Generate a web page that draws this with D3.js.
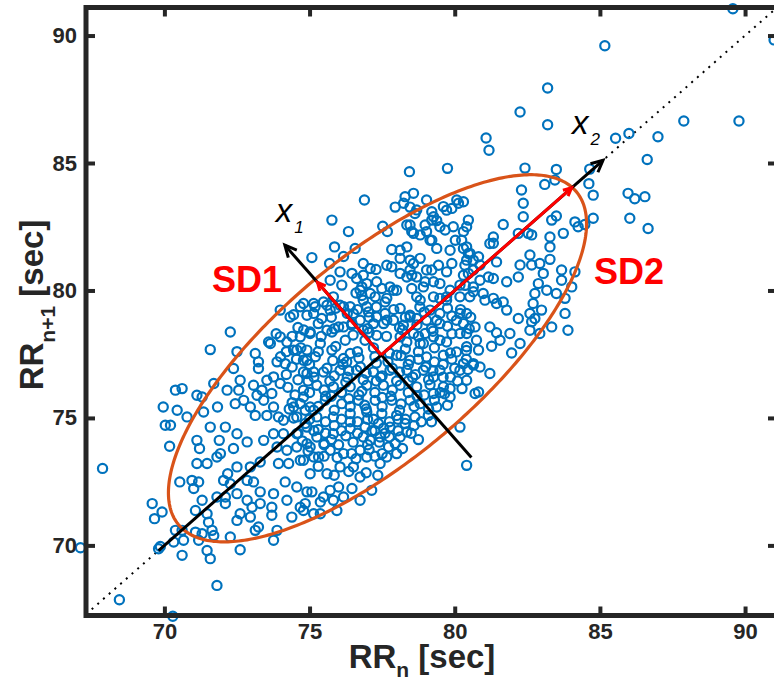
<!DOCTYPE html>
<html>
<head>
<meta charset="utf-8">
<script src="https://cdn.jsdelivr.net/npm/d3@7"></script>
<style>
  html, body { margin: 0; padding: 0; background: #fff; }
  svg { display: block; }
  text { font-family: "Liberation Sans", Arial, Helvetica, sans-serif; }
</style>
</head>
<body>
<svg id="chart" width="774" height="682"></svg>
<script>
// Poincaré plot of successive RR intervals: RR(n+1) against RR(n)
const rrPairs = [
  [89.58,91.05],[91.0,89.83],[85.17,89.6],[83.2,87.94],[82.25,87.0],[83.2,86.5],[89.79,86.65],[87.89,86.65],
  [87.0,86.03],[86.0,86.16],[85.54,85.97],[86.63,85.14],[81.08,85.98],[81.18,85.5],[82.42,84.8],[83.5,84.75],
  [84.65,84.76],[83.1,84.16],[83.45,84.33],[84.62,84.19],[84.77,83.74],[85.97,83.81],[86.2,83.6],[86.55,83.68],
  [86.03,82.83],[86.66,82.43],[84.77,82.83],[82.3,83.94],[82.36,83.42],[82.36,82.89],[81.67,82.59],[83.34,82.76],
  [83.5,82.92],[84.14,82.69],[84.25,82.5],[83.74,82.24],[83.28,82.1],[82.53,82.24],[82.19,82.24],[81.33,81.85],
  [83.28,81.71],[83.28,81.22],[82.59,81.39],[82.65,81.0],[82.93,81.06],[83.68,80.8],[84.14,80.73],[83.68,80.4],
  [84.03,80.14],[83.8,79.69],[83.5,79.88],[82.88,80.27],[82.76,79.88],[82.25,81.0],[82.19,80.53],[81.79,80.34],
  [81.33,80.47],[80.87,81.0],[80.53,81.45],[81.44,81.12],[80.41,82.5],[80.02,81.97],[80.47,80.67],[80.36,80.2],
  [80.64,79.95],[80.98,79.88],[81.33,79.69],[81.67,79.55],[81.79,79.23],[82.19,78.9],[82.76,78.9],[82.59,79.1],
  [82.99,79.23],[83.8,79.1],[80.3,81.65],[80.47,82.76],[80.3,83.48],[84.48,82.59],[82.65,82.18],[83.05,80.67],
  [83.17,80.01],[82.7,79.49],[81.44,79.49],[81.04,79.62],[80.52,79.75],[81.16,80.53],[80.87,80.4],[80.64,80.8],
  [80.41,81.19],[80.82,81.32],[80.41,81.71],[81.21,81.84],[81.33,82.1],[79.38,81.65],[79.84,81.58],[79.9,81.06],
  [78.81,81.26],[78.46,80.8],[78.98,80.34],[79.72,79.62],[80.18,80.21],[79.27,79.75],[78.81,79.62],[78.46,78.96],
  [79.38,78.83],[80.18,79.1],[80.41,78.31],[80.75,78.05],[79.72,77.98],[78.98,78.31],[81.21,78.57],[81.56,78.05],
  [81.9,78.31],[82.25,77.92],[82.59,78.44],[82.93,78.31],[83.34,78.57],[83.9,78.44],[78.29,83.68],[78.58,83.81],
  [79.03,83.55],[79.61,83.29],[80.07,83.55],[79.27,82.89],[78.69,83.16],[79.49,82.5],[79.95,82.5],[79.03,82.31],
  [78.35,82.57],
  [78.44,84.66],[79.75,84.79],[76.89,83.55],[75.77,82.76],[76.34,82.31],[75.86,81.71],[75.08,81.29],[76.57,81.65],
  [76.17,81.33],[75.69,81.06],[76.05,80.73],[75.71,80.4],[76.11,80.21],[76.85,81.06],[77.29,80.82],[76.85,80.6],
  [77.31,80.34],[76.8,80.14],[76.6,79.9],[76.8,79.8],[77.09,79.88],[77.49,80.08],[77.52,82.52],[77.68,82.31],
  [77.95,83.27],[78.24,83.42],[78.46,83.27],[78.63,83.02],[79.21,83.09],[79.38,82.74],[78.98,82.57],[78.52,82.31],
  [78.81,82.18],[79.21,81.97],[79.72,83.15],[79.9,83.22],[80.13,83.42],[79.67,82.37],[80.3,82.31],[80.24,81.97],
  [77.83,81.61],[78.12,81.26],[78.46,81.19],[77.83,80.93],[78.12,80.67],[78.52,80.6],[78.69,80.53],[79.21,80.8],
  [79.44,80.99],[79.72,80.73],[79.27,80.34],[78.92,80.14],[78.52,80.08],[77.89,80.01],[77.66,79.69],[77.26,79.75],
  [80.47,81.45],[80.35,80.99],[80.64,81.19],[80.3,80.6],[80.64,80.14],[80.18,79.75],[79.84,80.01],[79.49,79.69],
  [75.14,79.49],[74.79,79.49],[75.48,79.55],[75.82,79.75],[76.17,79.36],
  [71.58,77.68],[72.27,78.37],[72.5,77.6],[73.13,77.53],[73.65,77.92],[73.99,78.18],[73.99,79.23],[74.33,78.96],
  [74.68,79.36],[74.91,79.03],[75.19,79.36],[75.6,79.42],[75.02,78.37],[74.68,78.18],[74.45,77.66],[74.16,77.13],
  [73.99,76.35],[73.7,75.96],[73.24,76.94],[72.61,76.48],[72.16,76.09],[71.7,76.35],[75.42,78.9],[75.37,77.92],
  [75.77,77.66],[76.17,77.33],[76.23,78.05],[76.46,78.7],[76.0,78.57],[75.77,78.37],[76.05,79.42],[76.51,79.1],
  [76.85,79.62],[77.03,79.16],[77.2,78.7],[76.85,78.44],[77.31,78.24],[77.66,78.83],[77.6,79.55],[78.12,79.29],
  [78.23,78.64],[78.69,78.9],[79.15,79.23],[79.49,78.7],[79.27,78.18],[78.81,77.92],[78.35,77.98],[78.0,80.01],
  [78.35,80.53],[79.03,80.8],[79.49,80.27],[79.72,79.75],[78.69,79.75],[77.77,80.14],[76.74,80.01],[76.97,80.27],
  [76.62,80.47],[76.46,80.67],[77.09,80.86],[77.66,80.99],[78.12,81.58],[78.58,81.06],[78.35,81.71],[79.15,81.97],
  [79.21,82.76],[78.58,82.24],[78.46,82.57],
  [73.24,77.2],[73.59,77.98],[73.88,77.2],[74.22,77.98],[74.56,77.66],[74.91,77.26],[75.14,76.8],[74.79,76.8],
  [72.38,76.94],[70.61,76.15],[70.38,76.09],[71.12,75.89],[71.3,75.82],[69.96,75.43],[70.44,75.3],[70.78,75.04],
  [71.35,75.23],[71.83,75.43],[70.03,74.71],[70.21,74.71],[71.58,74.64],[70.18,73.89],[71.12,74.12],[71.21,73.8],
  [71.89,74.12],[71.93,73.6],[71.81,73.47],[71.12,73.21],[71.47,73.21],[72.38,73.8],[72.1,74.64],[72.5,74.38],
  [72.85,74.06],[72.56,76.09],[72.44,75.56],[72.73,75.69],[72.96,75.43],[73.19,75.89],[73.36,76.09],[73.07,76.28],
  [73.53,76.48],[73.76,76.61],[73.42,75.69],[73.76,75.43],[73.13,75.1],[73.53,75.1],[73.93,75.04],[74.1,74.91],
  [74.45,75.43],[74.56,75.04],[74.79,75.82],[75.14,75.3],[74.91,74.64],[74.56,74.38],[74.1,74.38],[73.76,74.38],
  [73.42,74.12],[73.88,73.86],[74.22,73.73],[74.56,73.86],[75.02,73.86],[75.14,73.47],[74.68,73.34],[74.28,73.21],
  [73.93,73.21],[73.3,73.27],[72.96,73.08],[72.5,73.08],[72.18,72.81],[72.04,72.55],[72.27,72.42],[72.85,72.55],
  [73.07,72.49],[73.3,72.1],[73.76,72.03],[74.16,72.49],[74.56,72.29],[74.91,72.1],[74.68,71.5],[74.22,71.77],
  [73.7,71.5],[73.7,71.18],[73.3,71.64],[73.02,71.5],[72.85,71.77],[72.5,72.03],[72.1,71.9],[72.1,71.64],
  [71.81,71.9],[71.3,71.77],[71.07,71.37],[70.95,72.55],[71.01,72.23],[70.53,72.49],[71.18,72.49],[71.47,71.24],
  [71.52,70.91],[71.64,70.59],[71.3,70.46],[71.07,70.52],[71.7,70.39],[72.27,70.33],[72.5,70.98],[72.61,71.24],
  [72.96,71.11],[73.13,70.59],[73.24,70.72],[73.88,70.59],[74.39,71.11],[74.79,71.37],[74.85,71.64],[75.14,71.24],
  [70.61,70.59],[70.38,70.59],[70.66,70.2],[70.32,70.13],[69.86,69.96],[69.8,69.87],[69.58,71.64],[69.92,71.31],
  [69.66,71.05],[70.61,69.61],[71.18,70.2],[71.47,69.8],[71.58,69.48],[72.61,69.83],[71.81,68.43],[73.76,70.2],
  [67.11,69.91],[70.29,67.22],[68.45,67.87],[67.87,73.02],
  [80.41,73.14],[77.43,73.21],[76.74,72.68],[77.14,72.16],[76.46,72.23],[76.0,72.29],[75.94,71.37],[75.37,71.7],
  [75.08,72.1],[75.48,71.9],[76.17,71.9],[75.71,72.16],[80.18,74.64],[79.84,76.15],[79.84,75.82],[80.7,75.96],
  [80.41,76.48],[80.3,77.13],[80.64,77.13],[79.49,76.87],[79.61,76.22],[79.27,75.96],[79.38,75.43],[79.09,75.1],
  [78.12,74.25],[77.72,73.86],[77.43,74.25],[77.09,74.12],[76.74,73.73],[76.17,73.6],[75.71,73.73],[75.31,73.47],
  [74.91,73.99],[75.25,74.25],[75.82,74.38],[76.4,74.58],[76.91,74.64],[77.37,74.78],[77.77,74.64],[78.29,74.78],
  [78.63,75.04],[78.0,75.1],[77.49,75.17],[76.97,75.23],[76.4,75.17],[75.82,75.04],[75.25,75.04],[74.85,74.78],
  [75.02,75.43],[75.54,75.69],[76.11,75.56],[76.68,75.69],[77.26,75.69],[77.83,75.69],[78.46,75.69],[78.81,75.56],
  [78.69,76.22],[78.12,76.28],[77.54,76.28],[76.97,76.28],[76.4,76.22],[75.82,76.22],[75.25,76.28],[74.79,76.09],
  [74.91,76.74],[75.48,76.8],[76.05,76.87],[76.62,76.87],[77.2,76.8],[77.77,76.87],[78.35,76.87],[78.92,76.87],
  [79.27,76.61],[78.46,77.26],[78.0,77.46],[79.03,77.39],[79.61,77.46],[80.06,77.59],[80.41,77.79],[79.49,78.05],
  [78.92,77.92],[78.58,78.31],[78.12,78.18],[77.89,78.83],[78.46,79.03],[79.03,78.83],[79.49,79.1],[80.06,78.83],
  [80.41,79.1],[80.7,78.57],[80.18,78.31],[76.91,78.05],[76.4,77.53],[76.28,77.2],[74.91,77.66],[75.02,78.31],
  [75.6,78.44],[76.17,78.57],[76.74,78.83],[77.31,78.96],[76.97,79.36],[76.4,79.36],[75.71,79.23],[75.14,79.1],
  [74.79,77.26],[74.68,75.56],[74.79,73.34],[75.02,72.81],[75.6,72.81],[76.05,73.08],[76.51,73.08],[76.97,73.47],
  [77.66,73.47],[75.37,71.24],[75.82,71.77],[76.74,71.77],
  [81.96,77.55],[81.27,77.81],[81.44,78.34],[80.82,77.66],[80.64,77.07],[80.87,77.0],[80.18,76.87],[81.21,76.74],
  [80.82,76.02],[82.65,78.77],
  // dense core
  [74.6,78.55],[75.3,78.7],[75.85,78.5],[76.45,78.65],[77.0,78.5],[77.55,78.7],[78.1,78.55],[78.7,78.65],[79.2,78.5],
  [79.75,78.6],[80.3,78.7],
  [74.2,77.6],[74.7,77.75],[75.3,77.6],[75.9,77.8],[76.65,77.6],[77.2,77.75],[77.75,77.55],[78.3,77.7],
  [78.75,77.6],[79.3,77.75],[79.85,77.55],[80.4,77.65],
  [74.4,77.0],[75.0,77.1],[75.6,76.95],[76.15,77.1],[76.75,77.0],[77.3,77.15],[77.85,76.95],[78.4,77.1],
  [79.0,77.0],[79.6,77.1],[80.0,76.95],
  [74.6,76.5],[75.15,76.6],[75.7,76.45],[76.3,76.6],[76.85,76.5],[77.45,76.6],[78.0,76.45],[78.55,76.6],
  [79.1,76.5],[79.6,76.6],[80.1,76.45],
  [74.5,75.9],[75.0,76.0],[75.55,75.85],[76.1,76.0],[76.7,75.9],[77.25,76.0],[77.8,75.85],[78.4,76.0],
  [78.95,75.9],[79.5,76.0],
  [74.3,75.35],[75.3,75.45],[75.85,75.3],[76.4,75.45],[76.95,75.35],[77.5,75.45],[78.1,75.3],[78.6,75.45],[79.1,75.35],
  [75.55,74.85],[76.1,74.95],[76.65,74.85],[77.2,74.95],[77.75,74.85],[78.3,74.95],[78.85,74.85],
  [74.6,74.4],[75.15,74.5],[75.55,74.4],[76.1,74.5],[76.65,74.4],[77.15,74.5],[77.6,74.4],[78.05,74.5],
  [78.5,74.4],
  [75.5,74.0],[76.0,73.95],[76.5,74.05],[77.0,73.95],[77.4,74.05],[77.95,74.0],
  [75.5,73.5],[76.45,73.6],[77.25,73.5],[78.0,73.6],
  [75.9,79.3],[76.65,79.25],[77.3,79.35],[77.9,79.25],[78.8,79.35],[79.75,79.3],[80.2,79.25],
  [74.45,79.05],[75.75,78.95],[76.3,79.1],[77.05,78.95],[77.6,79.1],[78.3,78.95],[78.95,79.15],[79.9,79.0],[80.55,78.95],
  [73.85,78.3],[74.4,78.2],[74.8,78.45],[75.4,78.2],[76.5,78.25],[77.05,78.35],[77.65,78.2],[78.2,78.45],[78.75,78.2],
  [79.25,78.4],[79.9,78.3],[80.5,78.5],
  [74.0,77.4],[74.55,77.3],[75.2,77.4],[75.8,77.25],[76.7,77.35],[77.25,77.4],[77.7,77.2],[78.15,77.45],[78.75,77.3],
  [79.3,77.2],[79.9,77.3],[80.4,77.3],
  [74.2,76.7],[75.85,76.65],[76.35,76.85],[76.95,76.75],[77.5,76.65],[78.1,76.8],[78.65,76.7],[79.25,76.85],
  [79.85,76.6],[80.45,76.9],
  [74.25,76.2],[74.95,76.45],[75.5,76.1],[76.25,76.4],[76.8,76.05],[77.3,76.45],[77.85,76.1],[78.4,76.45],
  [79.15,76.3],[79.65,75.95],[80.25,76.15],
  [74.4,75.6],[74.85,75.3],[75.75,75.85],[76.35,75.75],[76.9,75.5],[77.5,75.8],[78.15,75.55],[78.7,75.85],
  [79.3,75.7],[79.75,75.5],
  [74.45,75.0],[75.0,74.95],[75.85,74.7],[76.4,74.85],[77.0,74.95],[77.55,74.6],[78.05,74.95],[78.6,74.7],[79.2,74.85],
  [74.75,74.1],[75.3,74.55],[75.75,74.15],[76.25,74.3],[76.85,74.25],[77.25,74.5],[77.75,74.25],[78.35,74.45],[78.75,74.15],
  [74.95,73.7],[75.5,73.95],[75.95,73.45],[76.6,73.4],[77.05,73.75],[77.5,73.6],[78.2,73.8],
  [75.3,73.1],[75.85,72.75],[76.35,72.9],[76.95,72.85],[77.35,72.75]
];

// Axis setup
const axisLimits = [67.3, 91.1];
const axisLimitsY = [67.25, 91.1];
const tickValues = [70, 75, 80, 85, 90];

// Poincaré descriptors (sec)
const rrMean = 77.47;          // origin of the SD vectors
const ellipseCenter = 77.34;   // centre of the fitted ellipse
const ellipseAxes = { minor: 3.72, major: 9.48 };
const sd1 = 3.54;
const sd2 = 9.27;
const x1Extent = [-5.0, 5.35];
const x2Extent = [-10.85, 10.8];

const margin = { left: 86, top: 7.5, right: -3, bottom: 66.5 };
const W = 774, H = 682;

const svg = d3.select("#chart");
const x = d3.scaleLinear().domain(axisLimits).range([margin.left, W - margin.right]);
const y = d3.scaleLinear().domain(axisLimitsY).range([H - margin.bottom, margin.top]);

const axisColor = "#262626";
const blue = "#0072BD";
const orange = "#D95319";
const red = "#FF0000";

// Identity line (dotted)
svg.append("line")
  .attr("x1", x(axisLimits[0])).attr("y1", y(axisLimits[0]))
  .attr("x2", x(axisLimits[1])).attr("y2", y(axisLimits[1]))
  .attr("stroke", "#000").attr("stroke-width", 2)
  .attr("stroke-dasharray", "2 5.6");

// Scatter of successive intervals
svg.append("g").selectAll("circle")
  .data(rrPairs)
  .join("circle")
  .attr("cx", d => x(d[0]))
  .attr("cy", d => y(d[1]))
  .attr("r", 4.6)
  .attr("fill", "none")
  .attr("stroke", blue)
  .attr("stroke-width", 2.2);

// Ellipse in data space, axes along the identity line and its normal
const ts = d3.range(0, 2 * Math.PI, Math.PI / 180);
const ellipsePts = ts.map(t => {
  const a = ellipseAxes.major * Math.cos(t), b = ellipseAxes.minor * Math.sin(t);
  return [x(ellipseCenter + (a - b) / Math.SQRT2), y(ellipseCenter + (a + b) / Math.SQRT2)];
});
svg.append("path")
  .attr("d", d3.line().curve(d3.curveLinearClosed)(ellipsePts))
  .attr("fill", "none")
  .attr("stroke", orange)
  .attr("stroke-width", 3.2);

// Screen frame for the reference axes: u2 along identity line, u1 perpendicular
const c = [x(rrMean), y(rrMean)];
const dx = x(rrMean + 1) - x(rrMean), dy = y(rrMean + 1) - y(rrMean);
const len = Math.hypot(dx, dy);
const k = len / Math.SQRT2;            // pixels per second along the diagonal
const u2 = [dx / len, dy / len];
const u1 = [u2[1], -u2[0]];
const at = (a1, a2) => [c[0] + k * (a1 * u1[0] + a2 * u2[0]), c[1] + k * (a1 * u1[1] + a2 * u2[1])];

function arrow(p0, p1, color, width, headLen, headAng) {
  const g = svg.append("g");
  g.append("line")
    .attr("x1", p0[0]).attr("y1", p0[1]).attr("x2", p1[0]).attr("y2", p1[1])
    .attr("stroke", color).attr("stroke-width", width);
  const a = Math.atan2(p1[1] - p0[1], p1[0] - p0[0]);
  const h1 = [p1[0] - headLen * Math.cos(a - headAng), p1[1] - headLen * Math.sin(a - headAng)];
  const h2 = [p1[0] - headLen * Math.cos(a + headAng), p1[1] - headLen * Math.sin(a + headAng)];
  g.append("path")
    .attr("d", `M${h1[0]},${h1[1]}L${p1[0]},${p1[1]}L${h2[0]},${h2[1]}`)
    .attr("fill", "none").attr("stroke", color).attr("stroke-width", width)
    .attr("stroke-linejoin", "miter").attr("stroke-linecap", "butt");
}

// Reference axes x1 and x2
arrow(at(0, x2Extent[0]), at(0, x2Extent[1]), "#000", 3, 13, 0.45);
arrow(at(x1Extent[0], 0), at(x1Extent[1], 0), "#000", 3, 13, 0.45);

// SD1 and SD2 vectors
arrow(c, at(0, sd2), red, 3, 9, 0.45);
arrow(c, at(sd1, 0), red, 3, 9, 0.45);

// Box axes with inward ticks
const tickLen = 9;
const gx = svg.append("g").attr("transform", `translate(0,${y(axisLimitsY[0])})`)
  .call(d3.axisBottom(x).tickValues(tickValues).tickSizeInner(-tickLen).tickSizeOuter(0).tickPadding(8));
const gy = svg.append("g").attr("transform", `translate(${x(axisLimits[0])},0)`)
  .call(d3.axisLeft(y).tickValues(tickValues).tickSizeInner(-tickLen).tickSizeOuter(0).tickPadding(9));
const gt = svg.append("g").attr("transform", `translate(0,${y(axisLimitsY[1])})`)
  .call(d3.axisTop(x).tickValues(tickValues).tickSizeInner(-tickLen).tickSizeOuter(0).tickFormat(""));
const gr = svg.append("g").attr("transform", `translate(${x(axisLimits[1])},0)`)
  .call(d3.axisRight(y).tickValues(tickValues).tickSizeInner(-tickLen).tickSizeOuter(0).tickFormat(""));

[gx, gy, gt, gr].forEach(g => {
  g.select(".domain").remove();
  g.selectAll(".tick line").attr("stroke", axisColor).attr("stroke-width", 4);
  g.selectAll(".tick text")
    .attr("fill", axisColor)
    .style("font-size", "22px")
    .style("font-weight", "bold")
    .style("font-family", '"Liberation Sans", Arial, sans-serif');
});

svg.append("rect")
  .attr("x", x(axisLimits[0])).attr("y", y(axisLimitsY[1]))
  .attr("width", x(axisLimits[1]) - x(axisLimits[0]))
  .attr("height", y(axisLimitsY[0]) - y(axisLimitsY[1]))
  .attr("fill", "none").attr("stroke", axisColor).attr("stroke-width", 5);

// Axis titles
const xt = svg.append("text")
  .attr("x", 422).attr("y", 668)
  .attr("text-anchor", "middle")
  .attr("fill", axisColor)
  .style("font-size", "33px").style("font-weight", "bold");
xt.append("tspan").text("RR");
xt.append("tspan").attr("dy", 9).style("font-size", "21px").text("n");
xt.append("tspan").attr("dy", -9).text(" [sec]");

const yt = svg.append("text")
  .attr("transform", "translate(43,305) rotate(-90)")
  .attr("text-anchor", "middle")
  .attr("fill", axisColor)
  .style("font-size", "33px").style("font-weight", "bold");
yt.append("tspan").text("RR");
yt.append("tspan").attr("dy", 12).style("font-size", "21px").text("n+1");
yt.append("tspan").attr("dy", -12).text(" [sec]");

// Annotations
svg.append("text").attr("x", x(71.64)).attr("y", y(79.94))
  .attr("fill", red).style("font-size", "36px").style("font-weight", "bold").text("SD1");
svg.append("text").attr("x", x(84.8)).attr("y", y(80.26))
  .attr("fill", red).style("font-size", "36px").style("font-weight", "bold").text("SD2");

function axisName(px, py, sub) {
  const t = svg.append("text").attr("x", px).attr("y", py).attr("fill", "#000");
  t.append("tspan").style("font-size", "33px").style("font-style", "italic").text("x");
  t.append("tspan").attr("dx", 2).attr("dy", 11).style("font-size", "17px").style("font-style", "italic").text(sub);
}
const p1 = at(x1Extent[1], 0), p2 = at(0, x2Extent[1]);
axisName(p1[0] - 9, p1[1] - 23, "1");
axisName(p2[0] - 31, p2[1] - 26, "2");
</script>
</body>
</html>
